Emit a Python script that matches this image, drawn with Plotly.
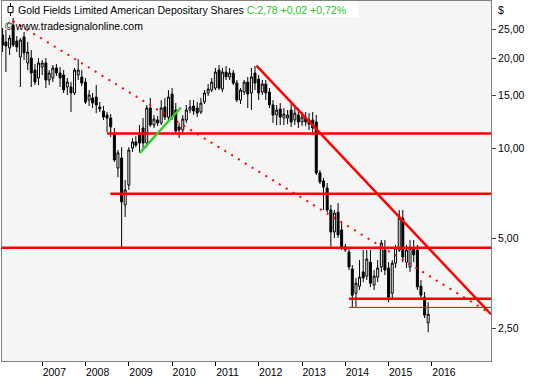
import calendar
import plotly.graph_objects as go

# ---- data (monthly bars, Jan 2006 .. Nov 2015) ----
opens = [23.88, 22.63, 21.61, 25.79, 22.81, 20.16, 23.52, 19.25, 20.00, 18.23, 17.15, 18.66,
         19.25, 16.88, 17.15, 18.52, 17.82, 17.55, 16.00, 16.00, 15.28, 17.55, 17.28, 16.62,
         14.47, 14.70, 14.81, 13.72, 13.30, 12.89, 12.60, 11.05, 8.57, 9.26, 6.45, 7.52,
         10.00, 10.48, 11.05, 11.67, 10.39, 13.61, 11.94, 12.41, 12.13, 13.72, 12.69, 15.16,
         13.40, 11.76, 11.49, 12.41, 13.40, 13.82, 13.61, 13.20, 14.25, 15.28, 15.63, 15.87,
         18.23, 15.75, 17.96, 17.28, 17.82, 16.49, 14.47, 15.39, 16.62, 15.28, 17.82, 17.01,
         15.39, 16.37, 15.39, 13.93, 12.89, 13.51, 12.60, 12.60, 13.40, 12.41, 12.89, 12.22,
         12.60, 12.41, 12.41, 12.22, 8.25, 7.76, 7.35, 6.20, 5.24, 6.10, 5.32, 4.67,
         4.49, 3.94, 3.27, 3.45, 3.85, 3.73, 4.15, 3.48, 3.70, 4.00, 4.56, 3.97,
         3.27, 4.12, 4.56, 5.83, 4.15, 4.00, 4.63, 4.56, 3.45, 3.17, 2.60]
highs = [25.21, 24.82, 23.88, 27.22, 23.70, 23.34, 24.43, 22.63, 21.27, 19.10, 20.00, 19.69,
         20.00, 18.23, 18.95, 19.10, 18.66, 18.23, 17.15, 16.62, 18.52, 19.85, 18.23, 17.15,
         15.63, 15.28, 16.24, 14.25, 13.82, 13.20, 12.99, 11.67, 9.85, 10.07, 7.82, 10.07,
         10.80, 10.96, 11.94, 12.60, 13.93, 14.70, 12.89, 12.79, 14.47, 14.70, 15.63, 15.87,
         14.14, 12.13, 12.89, 13.93, 14.47, 14.47, 14.25, 14.70, 15.63, 16.37, 17.15, 18.52,
         18.95, 18.52, 18.81, 18.52, 18.23, 16.88, 15.87, 16.88, 17.28, 18.52, 18.81, 17.55,
         16.88, 16.88, 15.87, 14.47, 13.93, 14.14, 13.61, 13.40, 14.25, 13.61, 13.61, 13.20,
         13.20, 13.09, 13.20, 12.89, 8.44, 7.94, 7.64, 6.45, 6.20, 6.55, 5.65, 4.78,
         4.63, 4.06, 3.68, 4.22, 4.56, 4.56, 4.56, 3.91, 4.22, 4.92, 4.92, 4.15,
         4.22, 4.74, 6.20, 6.20, 4.74, 4.92, 4.92, 4.74, 3.62, 3.30, 3.05]
lows = [20.95, 17.96, 20.47, 21.77, 20.95, 16.00, 19.69, 18.23, 16.00, 16.24, 16.24, 17.55,
        15.87, 16.24, 16.62, 17.42, 16.00, 15.28, 15.04, 13.20, 15.04, 16.88, 16.12, 14.04,
        13.82, 13.61, 13.09, 13.20, 12.41, 11.31, 10.88, 8.98, 7.99, 4.64, 5.88, 7.24,
        9.70, 10.07, 9.63, 10.00, 10.07, 11.76, 11.67, 11.85, 11.94, 12.41, 12.41, 12.41,
        11.14, 10.80, 11.22, 12.13, 13.09, 12.89, 12.69, 12.99, 14.04, 14.93, 15.39, 15.63,
        15.63, 15.39, 16.88, 16.88, 16.24, 14.25, 14.04, 15.04, 13.61, 13.40, 15.63, 14.47,
        15.04, 14.47, 13.61, 12.13, 11.94, 11.94, 11.94, 12.03, 11.76, 11.94, 11.67, 11.85,
        11.85, 11.49, 11.05, 8.12, 7.58, 6.20, 6.10, 4.67, 5.00, 5.00, 4.56, 4.49,
        3.91, 2.93, 2.93, 3.35, 3.56, 3.62, 3.43, 3.35, 3.56, 3.85, 3.76, 3.05,
        3.10, 3.97, 4.49, 4.15, 3.97, 3.85, 4.15, 3.35, 3.10, 2.70, 2.42]
closes = [22.11, 21.94, 23.34, 22.11, 21.77, 22.98, 20.79, 20.95, 17.82, 16.62, 19.25, 19.25,
          16.88, 17.82, 18.52, 17.82, 17.15, 15.63, 16.62, 15.28, 18.23, 18.23, 16.49, 14.25,
          15.04, 14.14, 13.93, 13.51, 12.69, 12.60, 11.76, 9.12, 9.63, 6.60, 7.24, 9.85,
          10.48, 10.23, 10.39, 10.39, 13.61, 11.94, 12.50, 12.13, 13.61, 12.69, 14.81, 12.79,
          11.40, 11.49, 12.50, 13.40, 13.72, 13.30, 13.09, 14.14, 15.28, 15.75, 16.62, 17.96,
          15.87, 17.96, 17.28, 17.82, 16.49, 14.47, 15.63, 16.62, 15.16, 17.28, 16.49, 15.28,
          16.37, 15.28, 13.93, 12.89, 13.40, 12.69, 12.99, 12.89, 12.22, 13.09, 12.22, 12.69,
          12.22, 12.03, 11.67, 8.25, 7.70, 7.40, 6.20, 5.24, 6.06, 5.12, 4.67, 4.56,
          4.00, 3.22, 3.53, 3.70, 3.68, 4.25, 3.53, 3.73, 3.97, 4.81, 3.91, 3.17,
          4.12, 4.63, 5.83, 4.32, 4.56, 4.63, 4.39, 3.43, 3.22, 2.76, 2.78]

dates = []
for k in range(len(closes)):
    yy, mm = 2006 + k // 12, k % 12 + 1
    dates.append(f"{yy}-{mm:02d}-{calendar.monthrange(yy, mm)[1]:02d}")

# drawings (trend lines and levels)
dotted_x = ["2006-04-28", "2017-05-13"]
dotted_y = [26.60, 2.79]
down_x = ["2011-12-13", "2017-05-13"]
down_y = [18.85, 2.78]
green_x = ["2009-04-03", "2010-03-15"]
green_y = [9.63, 13.66]
level_vals = [11.18, 7.03, 4.64, 3.13]
level_start = ["2008-06-30", "2008-07-29", "2006-01-20", "2014-01-31"]
thin_val = 2.93
thin_start = "2014-01-31"
x_end = "2017-05-13"
x_begin = "2006-01-26"

year_ticks = [f"{y}-01-01" for y in range(2007, 2017)]
year_text = [str(y) for y in range(2007, 2017)]
price_ticks = [2.5, 5, 10, 15, 20, 25]
price_text = ["2,50", "5,00", "10,00", "15,00", "20,00", "25,00"]

FONT = "Liberation Sans"
fig = go.Figure()

fig.add_trace(go.Candlestick(
    x=dates, open=opens, high=highs, low=lows, close=closes,
    increasing=dict(line=dict(color="black", width=1), fillcolor="white"),
    decreasing=dict(line=dict(color="black", width=1), fillcolor="black"),
    whiskerwidth=0, showlegend=False, hoverinfo="skip"))

for v, s in zip(level_vals, level_start):
    fig.add_trace(go.Scatter(x=[s, x_end], y=[v, v], mode="lines",
                             line=dict(color="#ff0000", width=2.5), showlegend=False, hoverinfo="skip"))
fig.add_trace(go.Scatter(x=[thin_start, x_end], y=[thin_val, thin_val], mode="lines",
                         line=dict(color="#ff0000", width=1), showlegend=False, hoverinfo="skip"))
fig.add_trace(go.Scatter(x=dotted_x, y=dotted_y, mode="lines",
                         line=dict(color="#ff0000", width=2, dash="2px,6px"), showlegend=False, hoverinfo="skip"))
fig.add_trace(go.Scatter(x=down_x, y=down_y, mode="lines",
                         line=dict(color="#ff0000", width=2.5), showlegend=False, hoverinfo="skip"))
fig.add_trace(go.Scatter(x=green_x, y=green_y, mode="lines",
                         line=dict(color="#33cc33", width=2.5), showlegend=False, hoverinfo="skip"))

W, H = 540, 380
L, R, T, B = 2, 49, 1, 19
pw, ph = W - L - R, H - T - B


def px(xp):
    return (xp - L) / pw


def py(yp):
    return (H - B - yp) / ph


shapes = [
    dict(type="rect", xref="paper", yref="paper", x0=0, x1=px(358), y0=py(17), y1=1,
         fillcolor="white", line=dict(width=0), layer="above"),
    dict(type="line", xref="paper", yref="paper", x0=px(10.5), x1=px(10.5), y0=py(16), y1=py(3),
         line=dict(color="black", width=1), layer="above"),
    dict(type="rect", xref="paper", yref="paper", x0=px(8), x1=px(13), y0=py(12.5), y1=py(6.5),
         fillcolor="white", line=dict(color="black", width=1), layer="above"),
]

annotations = [
    dict(xref="paper", yref="paper", x=px(16), y=py(9.5), xanchor="left", yanchor="middle",
         showarrow=False, font=dict(family=FONT, size=10.5, color="black"),
         text="Gold Fields Limited American Depositary Shares "
              "<span style='color:#22c322'>C:2,78 +0,02 +0,72%</span>"),
    dict(xref="paper", yref="paper", x=px(3), y=py(26), xanchor="left", yanchor="middle",
         showarrow=False, font=dict(family=FONT, size=10.5, color="black"),
         text="© www.tradesignalonline.com"),
    dict(xref="paper", yref="paper", x=px(496), y=py(10), xanchor="left", yanchor="middle",
         showarrow=False, font=dict(family=FONT, size=10.5, color="black"), text="$"),
]

fig.update_layout(
    width=W, height=H, margin=dict(l=L, r=R, t=T, b=B, autoexpand=False),
    paper_bgcolor="white", plot_bgcolor="#f5f5f5",
    boxgap=0.15,
    shapes=shapes, annotations=annotations,
    font=dict(family=FONT, size=10.5, color="black"),
    xaxis=dict(type="date", range=[x_begin, x_end], rangeslider=dict(visible=False),
               tickvals=year_ticks, ticktext=year_text, ticks="outside", ticklen=4,
               tickcolor="black", ticklabelshift=12, ticklabelstandoff=-3,
               showgrid=False, zeroline=False,
               showline=True, linecolor="#808080", mirror=True,
               tickfont=dict(family=FONT, size=10.5, color="black")),
    yaxis=dict(type="log", side="right", range=[0.2876, 1.4918],
               tickvals=price_ticks, ticktext=price_text, ticks="outside", ticklen=4,
               tickcolor="#404040", showgrid=False, zeroline=False,
               showline=True, linecolor="#808080", mirror=True,
               tickfont=dict(family=FONT, size=10.5, color="black")),
)

fig.write_html("out.html", config={"displayModeBar": False},
               post_script="document.body.style.margin='0';document.body.style.overflow='hidden';")
